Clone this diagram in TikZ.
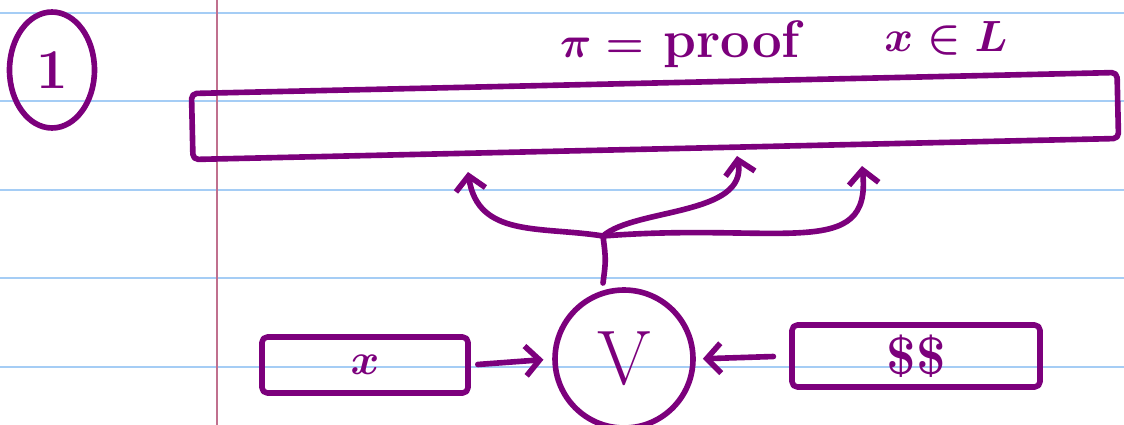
\documentclass[tikz,border=0pt]{standalone}
\usepackage{tikz}
\usetikzlibrary{arrows.meta, positioning, shapes.geometric}
\definecolor{inkpurple}{RGB}{124,0,124}
\definecolor{ruleblue}{RGB}{165,205,245}
\definecolor{marginred}{RGB}{192,112,142}

\begin{document}
\begin{tikzpicture}[x=0.02cm, y=-0.02cm,
  every node/.style={text=inkpurple},
  ink/.style={draw=inkpurple, line width=3.2pt, line cap=round, line join=round},
  inkbox/.style={ink, rectangle, rounded corners=3pt, inner sep=0pt},
  inkarrow/.style={ink, -{Straight Barb[length=8pt,width=17pt]}},
  bigtext/.style={font=\fontsize{30}{32}\selectfont\bfseries\boldmath}]
  % Paper
  \useasboundingbox (0,0) rectangle (1124,425);
  \fill[white] (0,0) rectangle (1124,425);
  \foreach \y in {13,101,190,278,367}
    \draw[ruleblue, line width=1.2pt] (0,\y) -- (1124,\y);
  \draw[marginred, line width=1.2pt] (217,0) -- (217,425);

  % Step number
  \node[ink, ellipse, minimum width=1.7cm, minimum height=2.32cm,
        font=\fontsize{32}{34}\selectfont\bfseries] (step1) at (52,70) {1};

  % Proof string
  \node[inkbox, minimum width=18.52cm, minimum height=1.32cm, rotate=1.3]
    (proof) at (655,116) {};
  \node[bigtext] (prooflabel) at (680,44) {$\pi =$ proof};
  \node[bigtext] (claim) at (946,38) {$x \in L$};

  % Verifier and its inputs
  \node[ink, circle, minimum size=2.76cm, inner sep=0pt,
        font=\fontsize{44}{48}\selectfont] (verifier) at (624,359) {V};
  \node[inkbox, minimum width=4.12cm, minimum height=1.12cm,
        font=\fontsize{30}{32}\selectfont\boldmath]
    (input) at (365,365) {$x$};
  \node[inkbox, minimum width=4.96cm, minimum height=1.24cm,
        font=\fontsize{30}{32}\selectfont\bfseries]
    (coins) at (916,356) {\$\$};

  \draw[inkarrow, shorten <=4pt, shorten >=5pt] (input.east) -- (verifier.west);
  \draw[inkarrow, shorten <=9pt, shorten >=4pt] (coins.west) -- (verifier.east);

  % Queries into the proof
  \coordinate (stem) at (603,283);
  \coordinate (fork) at (603,236);
  \coordinate (q1) at (468,172);
  \coordinate (q2) at (737,156);
  \coordinate (q3) at (862,166);
  \draw[ink] (stem) .. controls (606,260) .. (fork);
  \draw[inkarrow] (fork) .. controls (540,226) and (478,238) .. (q1);
  \draw[inkarrow] (fork) .. controls (635,208) and (748,216) .. (q2);
  \draw[inkarrow] (fork) .. controls (780,222) and (872,262) .. (q3);
\end{tikzpicture}
\end{document}
